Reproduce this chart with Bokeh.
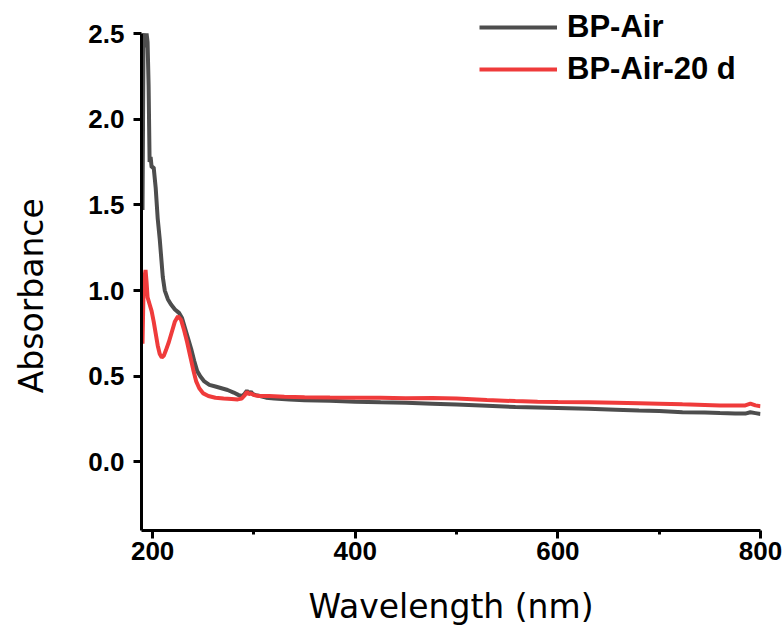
from bokeh.plotting import figure
from bokeh.models import FixedTicker, Legend, LegendItem, Range1d
from bokeh.embed import file_html
from bokeh.resources import INLINE

# BP-Air spectrum (wavelength nm, absorbance)
air_x = [190, 191, 192, 193, 194, 195, 196, 197, 198, 199, 201, 203, 205, 207, 210, 212,
         215, 218, 222, 226, 229, 232, 235, 238, 241, 244, 247, 251, 256, 262, 268, 274,
         280, 285, 289, 291, 293, 295, 297, 299, 302, 306, 312, 320, 335, 350, 375, 400,
         425, 450, 476, 500, 530, 558, 580, 600, 630, 657, 680, 700, 723, 745, 760, 775,
         785, 790, 795, 800]
air_y = [1.47, 2.48, 2.50, 2.42, 2.50, 2.45, 2.20, 1.75, 1.78, 1.72, 1.72, 1.60, 1.42, 1.30, 1.08, 1.00,
         0.95, 0.92, 0.89, 0.87, 0.84, 0.78, 0.72, 0.66, 0.59, 0.53, 0.50, 0.47, 0.45, 0.44, 0.43, 0.42,
         0.405, 0.39, 0.385, 0.40, 0.415, 0.40, 0.41, 0.395, 0.39, 0.385, 0.375, 0.37, 0.365, 0.36, 0.357, 0.352,
         0.348, 0.345, 0.34, 0.335, 0.328, 0.32, 0.318, 0.315, 0.31, 0.305, 0.30, 0.298, 0.29, 0.288, 0.285, 0.283,
         0.282, 0.29, 0.285, 0.28]

# BP-Air-20 d spectrum
aged_x = [190, 191, 192, 193, 194, 195, 197, 199, 201, 203, 205, 207, 209, 211, 213, 216,
          219, 222, 225, 228, 231, 234, 237, 240, 243, 246, 250, 255, 262, 270, 278, 284,
          288, 291, 293, 295, 297, 300, 305, 315, 330, 350, 375, 400, 425, 450, 476, 500,
          530, 558, 580, 600, 630, 657, 680, 700, 723, 745, 760, 775, 785, 790, 795, 800]
aged_y = [0.69, 1.00, 1.08, 1.12, 1.05, 0.96, 0.92, 0.88, 0.82, 0.75, 0.68, 0.63, 0.61, 0.62, 0.65, 0.70,
          0.76, 0.82, 0.85, 0.83, 0.77, 0.70, 0.62, 0.54, 0.47, 0.43, 0.40, 0.385, 0.375, 0.37, 0.368, 0.365,
          0.37, 0.39, 0.41, 0.395, 0.40, 0.39, 0.385, 0.385, 0.38, 0.378, 0.376, 0.375, 0.374, 0.372, 0.373, 0.37,
          0.362, 0.355, 0.352, 0.35, 0.348, 0.346, 0.343, 0.34, 0.336, 0.333, 0.33, 0.33, 0.33, 0.34, 0.33, 0.325]

series_names = ["BP-Air", "BP-Air-20 d"]
x_ticks = [200, 400, 600, 800]
x_minor = [300, 500, 700]
y_ticks = [0.0, 0.5, 1.0, 1.5, 2.0, 2.5]

p = figure(width=784, height=637, output_backend="svg", toolbar_location=None,
           x_range=Range1d(189, 800), y_range=Range1d(-0.4, 2.646),
           min_border_left=141, min_border_right=24, min_border_top=8, min_border_bottom=107)
p.outline_line_color = None
p.grid.visible = False
p.background_fill_color = "white"

r1 = p.line(air_x, air_y, line_color="#4d4d4d", line_width=4)
r2 = p.line(aged_x, aged_y, line_color="#ef3b3b", line_width=4)

for ax in (p.xaxis[0], p.yaxis[0]):
    ax.axis_line_width = 3
    ax.axis_line_color = "black"
    ax.major_tick_line_width = 3
    ax.minor_tick_line_width = 3
    ax.major_tick_in = 0
    ax.major_tick_out = 8
    ax.minor_tick_in = 0
    ax.minor_tick_out = 4
    ax.major_label_text_font = "Liberation Sans"
    ax.major_label_text_font_style = "bold"
    ax.major_label_text_font_size = "26px"
    ax.major_label_text_color = "black"
    ax.axis_label_text_font = "DejaVu Sans"
    ax.axis_label_text_font_style = "normal"
    ax.axis_label_text_font_size = "33px"
    ax.axis_label_text_color = "black"

p.yaxis[0].bounds = (-0.4, 2.5)
p.xaxis[0].ticker = FixedTicker(ticks=x_ticks, minor_ticks=x_minor)
p.yaxis[0].ticker = FixedTicker(ticks=y_ticks, minor_ticks=[])
p.yaxis[0].major_label_overrides = {0.0: "0.0", 0.5: "0.5", 1.0: "1.0", 1.5: "1.5", 2.0: "2.0", 2.5: "2.5"}
p.xaxis[0].axis_label = "Wavelength (nm)"
# trailing no-break spaces keep the label centred on the drawn axis (not the taller frame)
p.yaxis[0].axis_label = "Absorbance" + "\u00a0" * 5
p.xaxis[0].major_label_standoff = 3
p.yaxis[0].major_label_standoff = 9
p.xaxis[0].axis_label_standoff = 24
p.yaxis[0].axis_label_standoff = 34

legend = Legend(items=[LegendItem(label=series_names[0], renderers=[r1]),
                       LegendItem(label=series_names[1], renderers=[r2])],
                location=(338, 443), orientation="vertical")
legend.border_line_color = None
legend.background_fill_alpha = 0
legend.padding = 0
legend.margin = 0
legend.spacing = 6
legend.glyph_width = 78
legend.glyph_height = 34
legend.label_height = 34
legend.label_standoff = 10
legend.label_text_font = "Liberation Sans"
legend.label_text_font_style = "bold"
legend.label_text_font_size = "31px"
legend.label_text_color = "black"
p.add_layout(legend, "center")

open("out.html", "w").write(file_html(p, INLINE))
